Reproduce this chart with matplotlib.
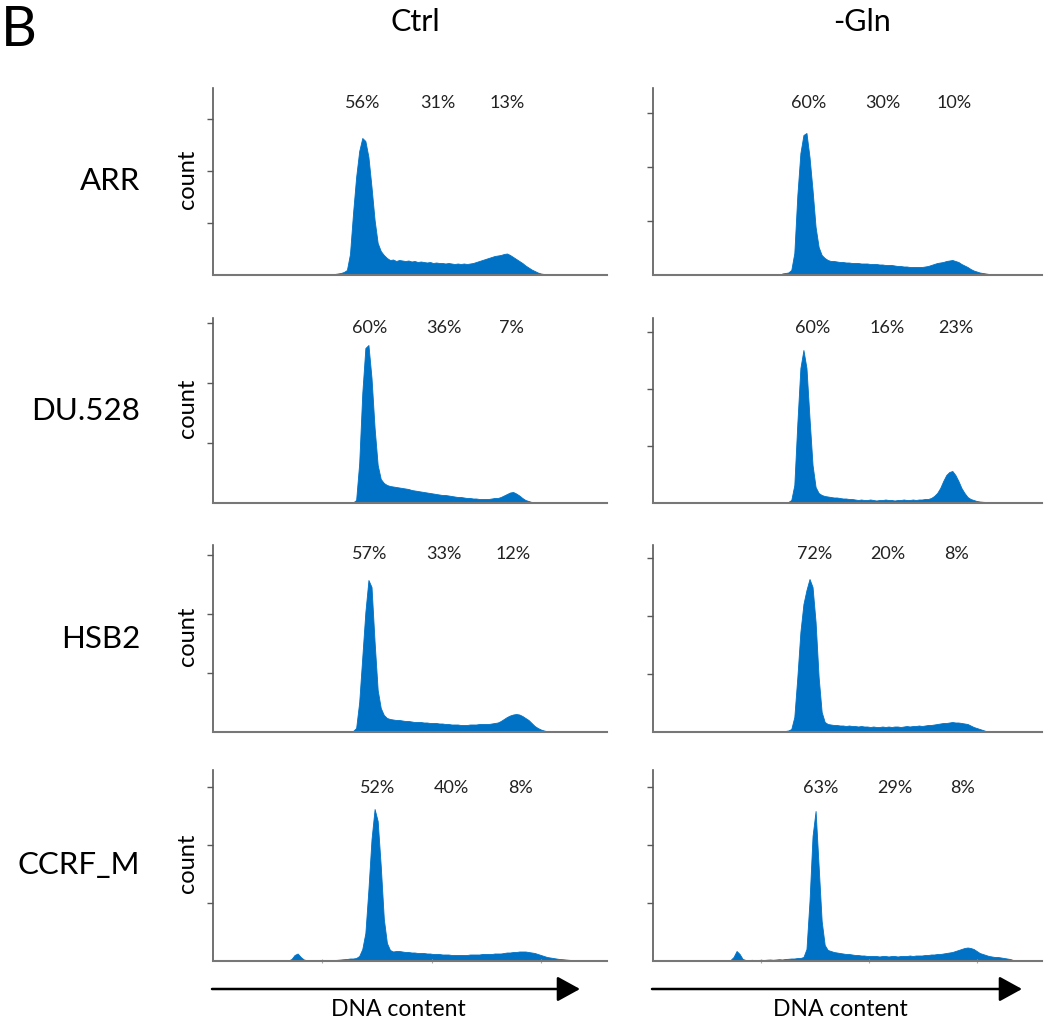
import numpy as np
import matplotlib
matplotlib.use("Agg")
import matplotlib.pyplot as plt

plt.rcParams['font.family'] = ['Lato', 'DejaVu Sans']

# ---------------- data ----------------
cell_lines = ['ARR', 'DU.528', 'HSB2', 'CCRF_M']
conditions = ['Ctrl', '-Gln']
x_label = 'DNA content'
y_label = 'count'
panel_letter = 'B'

N_CHANNELS = 256      # DNA-content channels on the x axis
BIN = 2               # channels per histogram bin

# cell-cycle phase percentages (G1, S, G2/M)
pct_ARR_ctrl = [56, 31, 13]
pct_ARR_gln = [60, 30, 10]
pct_DU_ctrl = [60, 36, 7]
pct_DU_gln = [60, 16, 23]
pct_HSB2_ctrl = [57, 33, 12]
pct_HSB2_gln = [72, 20, 8]
pct_CCRF_ctrl = [52, 40, 8]
pct_CCRF_gln = [63, 29, 8]

# histogram counts (arbitrary units), first bin index given separately
start_ARR_ctrl = 38
hist_ARR_ctrl = [0.5, 1, 1.5, 2, 3, 5, 21, 62, 98, 124, 137, 134, 118, 88, 55, 32, 24, 20, 17,
                 15, 15.5, 14, 15, 14.5, 14, 14.5, 13.5, 14, 13, 13.5, 13, 12.5, 13, 12, 12.5, 12,
                 12, 11.5, 12, 11.5, 11, 11.5, 11, 11.5, 11, 11.5, 12, 13, 14, 15, 16, 17, 18, 19,
                 19.5, 20, 21, 21.5, 20, 18, 16, 14, 12, 9.5, 7.5, 5.5, 4, 2.5, 1.5, 1, 0.5]

start_ARR_gln = 42
hist_ARR_gln = [1.5, 2, 2.5, 5, 22, 80, 122, 140, 142, 118, 85, 48, 28, 20, 17, 15, 14, 14,
                13.5, 13, 13, 12.5, 12.5, 12, 12, 12, 11.5, 11.5, 11.5, 11, 11, 11, 10.5, 10.5, 10,
                10, 10, 9.5, 9, 9, 8.5, 8.5, 8, 8, 8, 8, 8, 8.5, 9, 10, 11, 12, 12.5, 13, 14, 14.5,
                15, 14, 13, 11, 9.5, 8, 6, 4.5, 3.5, 2.5, 2, 1.5, 1]

start_DU_ctrl = 45
hist_DU_ctrl = [0.5, 3, 40, 110, 155, 158, 125, 75, 38, 24, 20, 18, 17, 16.5, 16, 15.5, 15, 14.5,
                14, 13, 12.5, 12, 11.5, 11, 10.5, 10, 9.5, 9, 8.5, 8, 8, 7.5, 7, 6.5, 6, 6, 5.5, 5,
                5, 4.5, 4.5, 4, 4, 4, 4, 4.5, 5, 5, 6, 7.5, 9, 10.5, 11, 9.5, 7.5, 5, 3, 2, 1, 0.7,
                0.3]

start_DU_gln = 44
hist_DU_gln = [1, 3, 18, 80, 135, 153, 135, 85, 38, 16, 10, 8, 7, 6.5, 6, 5.5, 5.5, 5, 4.5, 4.5,
               4, 4, 3.5, 3, 3.5, 3, 3, 3.5, 3, 2.5, 3, 3, 3.5, 3, 3, 2.5, 3, 3, 3.5, 3, 3, 3.5, 3,
               3.5, 3.5, 4, 4, 5, 7, 10, 15, 22, 28, 31, 32, 28, 22, 15, 10, 6, 4, 3, 2, 1.5, 1.2,
               1, 0.8, 0.5]

start_HSB2_ctrl = 45
hist_HSB2_ctrl = [1, 4, 30, 75, 120, 152, 145, 90, 42, 24, 17, 14, 13, 12.5, 12, 12, 11.5, 11, 11,
                  10.5, 10, 10, 10, 9.5, 9.5, 9, 9, 9, 8.5, 8.5, 8, 8, 7.5, 7.5, 7.5, 7, 7, 7, 7.5,
                  7.5, 7.5, 8, 8, 8, 8, 8.5, 9, 9.5, 11, 13, 15, 16.5, 17.5, 18, 17.5, 16, 14, 12, 9,
                  6, 4, 2.5, 1.5, 0.8, 0.3]

start_HSB2_gln = 43
hist_HSB2_gln = [1, 1.5, 3, 15, 55, 100, 128, 142, 153, 145, 110, 55, 20, 10, 8, 7.5, 7,
                 7, 6.5, 6.5, 6, 6.5, 6, 6, 5.5, 6, 5.5, 5.5, 5, 5.5, 5, 5, 5.5,
                 5, 5.5, 5, 5.5, 5.5, 5, 5.5, 6, 5.5, 6,
                 6, 6.5, 6, 6.5, 7, 7, 7.5,
                 8, 8.5, 9, 9, 9.5, 10, 9.5, 9.5,
                 9, 8.5, 8, 6.5, 5, 4, 3, 2, 1, 0.5]

start_CCRF_ctrl = 24
hist_CCRF_ctrl = [0.5, 2, 6, 7.5, 4, 1.5,
                  0.8, 0.6, 0.8, 0.5, 0.7, 0.8, 0.6, 0.9, 0.7, 1, 1.2, 1.5, 1.8,
                  2, 2.5, 2.5, 3, 5, 12, 28, 72, 122, 152, 140, 95, 42, 18, 11, 9.5, 10, 10, 9.5,
                  9, 9, 8.5, 8.5, 8, 8, 8, 7.5, 7.5, 7, 7, 7, 6.5, 6.5, 6.5, 6, 6, 6, 6, 6, 6, 6.5,
                  6.5, 6.5, 6.5, 7, 7, 7, 7, 7.5, 7.5, 7.5, 8, 8.5, 8.5, 9, 9, 9.5, 9.5, 9.5, 9, 8.5,
                  8, 7, 6, 5, 4, 3.5, 3, 2.5, 2, 1.8, 1.5, 1.2, 1, 0.5]

start_CCRF_gln = 16
hist_CCRF_gln = [0.7, 0, 0, 0, 0.5, 0, 0, 0, 0.5, 1, 4, 10, 7, 2,
                 1, 0.8, 1.2, 0.8, 1, 1.2, 1, 1.3, 1.5, 1.2, 1.5, 1.8, 1.5, 2, 2.2, 2.5,
                 2.5, 3, 3, 4, 12, 60, 125, 150, 95, 40, 16, 11, 10, 9, 8.5, 8, 7.5, 7, 7, 6.5, 6,
                 6, 5.5, 5.5, 5, 5, 5,
                 5, 4.5, 5, 5, 4.5, 5, 5, 4.5, 5, 5, 5, 5.5, 5, 5.5,
                 5.5, 5.5, 6, 6, 6.5, 6.5, 7, 7, 7.5, 8, 8.5, 9, 10, 11, 12, 13, 13.5, 13, 12, 10, 8,
                 7, 6, 5, 4.5, 4, 4, 3.5, 3, 2.5, 2, 1, 0.5]

hists = [[(start_ARR_ctrl, hist_ARR_ctrl), (start_ARR_gln, hist_ARR_gln)],
         [(start_DU_ctrl, hist_DU_ctrl), (start_DU_gln, hist_DU_gln)],
         [(start_HSB2_ctrl, hist_HSB2_ctrl), (start_HSB2_gln, hist_HSB2_gln)],
         [(start_CCRF_ctrl, hist_CCRF_ctrl), (start_CCRF_gln, hist_CCRF_gln)]]
pcts = [[pct_ARR_ctrl, pct_ARR_gln], [pct_DU_ctrl, pct_DU_gln],
        [pct_HSB2_ctrl, pct_HSB2_gln], [pct_CCRF_ctrl, pct_CCRF_gln]]

# ---------------- layout / style ----------------
W, H = 1053, 1031
BLUE = '#0072C6'
SPINE = '#595959'
col_x = [(213, 394), (653, 389)]                    # left px, width px
row_y = [(88, 275), (318, 503), (545, 732), (770, 961)]  # top px, bottom px
tick_step = [[52, 54], [60, 57], [59, 58], [58, 58]]
pct_label_x = [[[97.5, 146, 191], [102.6, 151, 198]],
               [[102, 150, 194], [105, 154, 199]],
               [[102, 150, 195], [106.6, 154.6, 200]],
               [[107, 155, 199.5], [110.5, 159, 204]]]
pct_label_y = [103, 328, 554, 788]

fig = plt.figure(figsize=(W / 100, H / 100), dpi=100)

for r in range(4):
    top, bot = row_y[r]
    for c in range(2):
        left, width = col_x[c]
        ax = fig.add_axes([left / W, 1 - bot / H, width / W, (bot - top) / H])
        start, vals = hists[r][c]
        vals = np.asarray(vals, dtype=float)
        centers = (start + np.arange(len(vals)) + 0.5) * BIN
        xs = np.concatenate([[centers[0] - BIN / 2], centers, [centers[-1] + BIN / 2]])
        ys = np.concatenate([[0], vals, [0]])
        ax.fill_between(xs, 0, ys, color=BLUE, linewidth=0.6, edgecolor=BLUE)
        ax.set_xlim(0, N_CHANNELS)
        ax.set_ylim(0, bot - top)
        step = tick_step[r][c]
        ax.set_yticks([step, 2 * step, 3 * step])
        ax.set_yticklabels([])
        if r == 3:
            ax.set_xticks([71, 142, 213])
            ax.tick_params(axis='x', direction='inout', length=3, width=0.8, colors='#aaaaaa')
        else:
            ax.set_xticks([])
        ax.set_xticklabels([])
        ax.tick_params(axis='y', direction='out', length=4, width=1, colors=SPINE)
        for s in ['top', 'right']:
            ax.spines[s].set_visible(False)
        ax.spines['left'].set_color(SPINE)
        ax.spines['left'].set_linewidth(1.2)
        ax.spines['bottom'].set_color('#777777')
        ax.spines['bottom'].set_linewidth(1.5)
        ax.patch.set_alpha(0)
        yfrac = (bot - pct_label_y[r]) / (bot - top)
        for xv, p in zip(pct_label_x[r][c], pcts[r][c]):
            ax.text(xv, yfrac, f'{p}%', transform=ax.get_xaxis_transform(),
                    ha='center', va='center', fontsize=13, color='#222222')
        if c == 0:
            fig.text(187 / W, 1 - ((top + bot) / 2 - 2) / H, y_label, rotation=90,
                     ha='center', va='center', fontsize=17, color='black')
            fig.text(140 / W, 1 - ((top + bot) / 2) / H, cell_lines[r],
                     ha='right', va='center', fontsize=22.5, color='black')

# column titles
for c, (cx, cy) in enumerate([(415, 22), (862, 22)]):
    fig.text(cx / W, 1 - cy / H, conditions[c], ha='center', va='center',
             fontsize=22, color='black')

# panel letter
fig.text(1 / W, 1 - 30 / H, panel_letter, ha='left', va='center', fontsize=40,
         color='black')

# DNA content arrows
for (x0, x1, tx) in [(212, 580, 398), (652, 1022, 840)]:
    fig.patches.append(matplotlib.patches.FancyArrowPatch(
        (x0 / W, 42 / H), (x1 / W, 42 / H), transform=fig.transFigure,
        arrowstyle='-|>,head_length=1.0,head_width=0.55', mutation_scale=14,
        color='black', linewidth=1.8, shrinkA=0, shrinkB=0))
    fig.text(tx / W, 21 / H, x_label, ha='center', va='center', fontsize=16.5, color='black')

fig.savefig('out.png', dpi=100)
